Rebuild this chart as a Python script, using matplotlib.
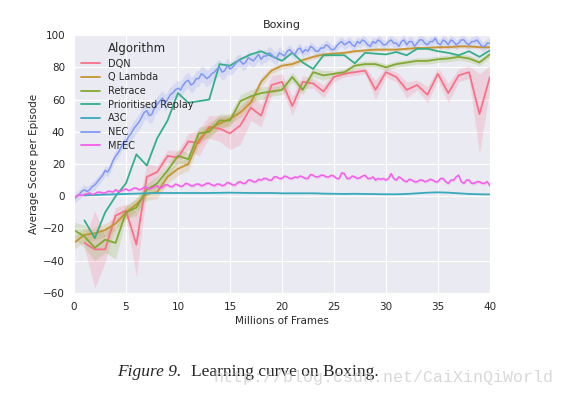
import matplotlib
matplotlib.use("Agg")
import matplotlib.pyplot as plt
import numpy as np
import seaborn as sns

sns.set_style("darkgrid")
plt.rcParams['font.family'] = ['DejaVu Sans']

# x positions (millions of frames)
steps = np.arange(0, 41)                # evaluated every 1M frames
steps_fine = np.arange(0, 40.25, 0.25)  # NEC / MFEC logged more often

dqn = [np.nan, -29, -33, -33, -12, -9, -30, 12, 15, 25, 24, 34, 33, 43, 42, 39, 44, 55, 50, 69, 71,
       56, 71, 70, 65, 74, 76, 77, 78, 66, 77, 74, 66, 69, 63, 76, 64, 75, 77, 51, 74]
dqn_err = [np.nan, 3, 24, 8, 5, 4, 20, 8, 4, 4, 4, 5, 8, 7, 8, 10, 12, 8, 7, 6, 5,
           6, 4, 3, 4, 3, 2, 2, 2, 6, 3, 3, 5, 3, 5, 4, 6, 4, 4, 25, 7]

q_lambda = [-29, -24, -23, -21, -17, -10, -5, 1.5, 2.5, 12, 17, 20, 35, 42, 45, 48, 52, 58, 71, 78, 81,
            82, 84.5, 86.5, 88, 88.5, 89, 90, 90.5, 91, 91, 91, 91.5, 92, 92, 92.5, 92.5, 93, 93, 92.5, 92.5]
q_lambda_err = [4, 4, 4, 4, 4, 4, 4, 4, 4, 4, 4, 4, 4, 4, 4, 3, 3, 3, 3, 2, 2,
                2, 1.5, 1.5, 1.5, 1, 1, 1, 1, 1, 1, 1, 1, 1, 1, 1, 1, 1, 1, 1, 1]

retrace = [-21, -25, -32, -27, -29, -10, -7, 4, 8, 16, 25, 23, 39, 40, 47, 47, 59, 62, 64, 65, 66,
           74, 66, 77, 75, 76, 77, 81, 82, 82, 80, 82, 83, 84, 84, 85, 85.5, 86.5, 85.5, 83, 88]
retrace_err = [5, 7, 8, 8, 10, 4, 5, 4, 4, 4, 4, 4, 4, 4, 4, 4, 4, 4, 4, 3, 3,
               3, 3, 3, 3, 2, 2, 2, 2, 2, 2, 2, 2, 2, 2, 2, 2, 2, 2, 2, 2]

prioritised = [np.nan, -15, -26, -10, 0, 8, 26, 19, 36, 47, 64, 58, 59, 60, 82, 81, 85, 88, 90, 87, 84,
               89, 83, 79, 87.5, 87.5, 87.5, 82.5, 89, 88.5, 88, 89.5, 87.5, 91.5, 91.5, 90, 89, 87.5, 90, 86.5, 90.5]

a3c = [np.nan, 0.5, 0.8, 1.0, 1.2, 1.4, 1.6, 1.8, 2.0, 2.0, 2.0, 2.0, 2.0, 2.0, 2.1, 2.2, 2.1, 2.0, 2.0, 2.0, 1.8,
       1.8, 1.8, 1.8, 1.6, 1.5, 1.4, 1.5, 1.4, 1.3, 1.2, 1.2, 1.4, 1.8, 2.2, 2.4, 2.2, 1.8, 1.4, 1.2, 1.1]

nec = [-2, 0, 1, 3, 4, 3, 4, 6, 7, 9, 11, 13, 16, 15, 18, 22, 25, 27, 30, 33,
       34, 37, 39, 42, 44, 46, 49, 52, 53, 50, 51, 55, 57, 59, 61, 58, 60, 63, 64, 66,
       67, 66, 69, 71, 72, 69, 70, 73, 73, 76, 75, 73, 74, 76, 77, 79, 80, 77, 78, 81,
       79, 80, 82, 84, 84, 82, 83, 86, 85, 84, 86, 88, 85, 87, 87, 89, 88, 86, 86, 89,
       88, 87, 90, 91, 89, 88, 91, 92, 89, 91, 90, 93, 92, 90, 90, 92, 92, 94, 93, 91,
       91, 93, 95, 96, 94, 95, 96, 94, 93, 96, 95, 97, 96, 94, 93, 96, 95, 97, 96, 94,
       94, 96, 97, 95, 95, 93, 96, 97, 94, 96, 96, 93, 95, 97, 97, 95, 94, 96, 96, 98,
       95, 94, 97, 96, 94, 97, 96, 94, 95, 97, 97, 95, 94, 96, 96, 97, 95, 93, 93, 95,
       95]
# band half-width for each 5M block (and the final point)
nec_err_block = [3, 5, 5, 4, 3, 3, 3, 3, 3]

mfec = [-1, 0, 1, 0.5, 1, 1.5, 2, 1, 1.5, 2.5, 2.5, 2, 2, 3, 3, 2.5, 4, 3, 3, 4,
        4.5, 3.5, 4, 5, 5, 4, 4.5, 5.5, 5.5, 4.5, 5, 6, 6.5, 5, 5.5, 7, 7, 6, 6, 7.5,
        7, 6, 6.5, 8, 7.5, 6.5, 6.5, 7.5, 7.5, 6.5, 7, 8, 8, 7, 6.5, 7.5, 7.5, 6.5, 7, 8.5,
        8, 7, 7, 8.5, 9, 8, 8, 10, 10, 9, 9, 10.5, 10, 11, 11, 10, 10, 12, 12, 11,
        11, 12.5, 12, 11, 11, 12, 11.5, 12.5, 12, 11, 11, 13.5, 13, 12, 12, 13, 13, 12, 12, 13,
        12.5, 11, 11, 14.5, 14, 11, 11, 12.5, 12, 11, 11.5, 12.5, 13, 11, 11, 12, 10, 11, 10.5, 11,
        10, 11, 14, 11, 10, 12, 11, 9.5, 9, 10.5, 10, 9, 9, 10, 10, 9, 9.5, 10.5, 10, 9,
        9, 11, 11, 9, 8, 10, 10, 12, 13, 9, 8, 10, 10, 8, 8, 9, 9, 8, 8, 9,
        6.5]
mfec_err = 1.0

names = ["DQN", "Q Lambda", "Retrace", "Prioritised Replay", "A3C", "NEC", "MFEC"]
colors = sns.husl_palette(7)

fig = plt.figure(figsize=(5.65, 3.99), dpi=100)
ax = fig.add_axes([0.131, 0.266, 0.736, 0.646])


def band(x, y, e, c):
    y = np.array(y, dtype=float)
    e = np.array(e, dtype=float)
    ax.fill_between(x, y - e, y + e, color=c, alpha=0.2, lw=0)


nec_err = np.concatenate([np.repeat(nec_err_block[:-1], 20), nec_err_block[-1:]])

band(steps, dqn, dqn_err, colors[0])
band(steps, q_lambda, q_lambda_err, colors[1])
band(steps, retrace, retrace_err, colors[2])
band(steps_fine, nec, nec_err, colors[5])
band(steps_fine, mfec, mfec_err, colors[6])

lw = 1.3
ax.plot(steps, dqn, color=colors[0], lw=lw, label=names[0])
ax.plot(steps, q_lambda, color=colors[1], lw=lw, label=names[1])
ax.plot(steps, retrace, color=colors[2], lw=lw, label=names[2])
ax.plot(steps, prioritised, color=colors[3], lw=lw, label=names[3])
ax.plot(steps, a3c, color=colors[4], lw=lw, label=names[4])
ax.plot(steps_fine, nec, color=colors[5], lw=1.1, label=names[5])
ax.plot(steps_fine, mfec, color=colors[6], lw=1.1, label=names[6])

ax.set_xlim(0, 40)
ax.set_ylim(-60, 100)
ax.set_xticks(range(0, 41, 5))
ax.set_yticks(range(-60, 101, 20))
ax.tick_params(labelsize=7.5, pad=3)
ax.set_title("Boxing", fontsize=8, pad=5)
ax.set_xlabel("Millions of Frames", fontsize=7.5, labelpad=3)
ax.set_ylabel("Average Score per Episode", fontsize=7.5, labelpad=3)

leg = ax.legend(title="Algorithm", loc="upper left", frameon=False, fontsize=7,
                title_fontsize=8.5, labelspacing=0.38, handlelength=2.0,
                borderaxespad=0.4, borderpad=0.3)
for h in leg.get_lines():
    h.set_linewidth(1.3)

fig.text(0.207, 0.068, "Figure 9.", fontsize=12.5, family="Liberation Serif",
         style="italic", va="center")
fig.text(0.338, 0.068, "Learning curve on Boxing.", fontsize=12.5,
         family="Liberation Serif", va="center")
fig.text(0.377, 0.055, "http://blog.csdn.net/CaiXinQiWorld", fontsize=12,
         family="Liberation Mono", color="#cfcfcf", alpha=0.8, va="center")

fig.savefig("out.png", dpi=100)
